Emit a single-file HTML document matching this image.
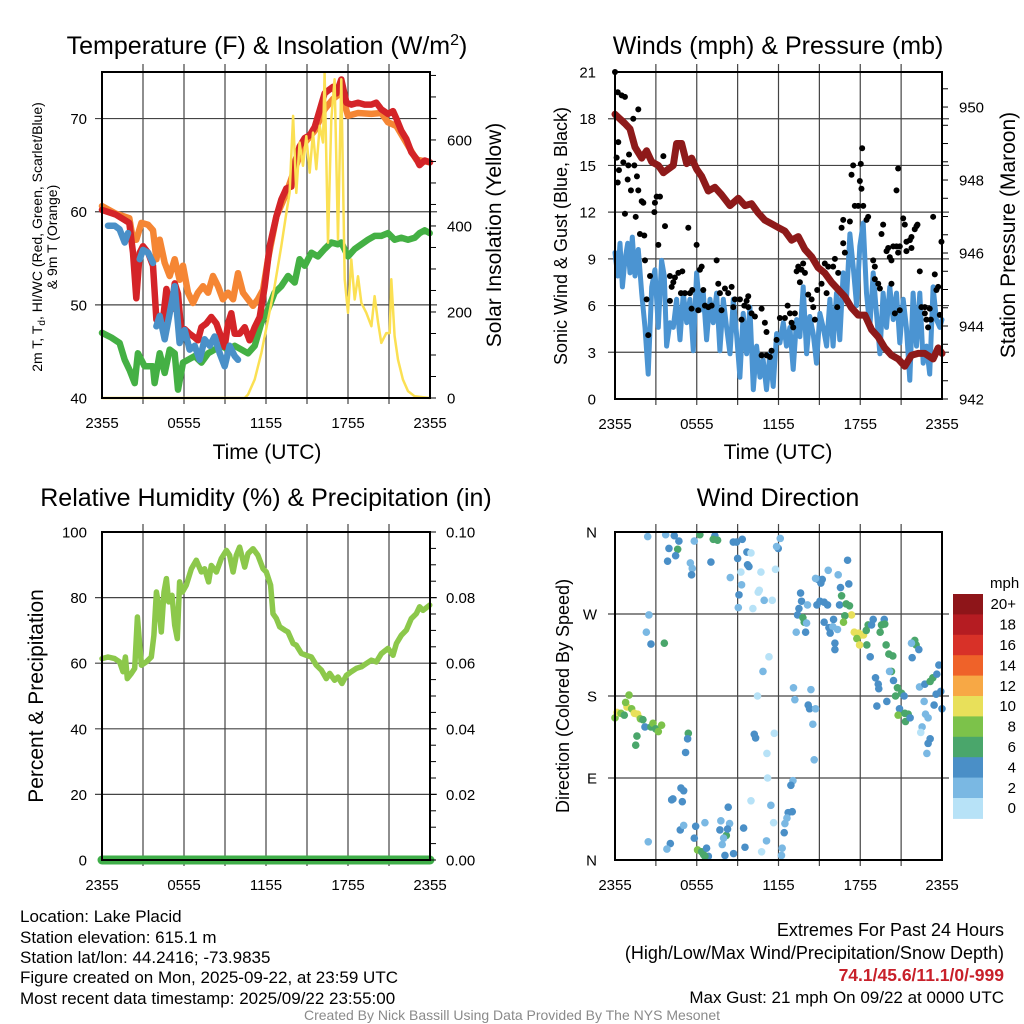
<!DOCTYPE html>
<html><head><meta charset="utf-8"><style>
html,body{margin:0;padding:0;background:#fff;}
svg{display:block;font-family:"Liberation Sans",sans-serif;}
</style></head><body>
<svg id="fig" width="1024" height="1024" viewBox="0 0 1024 1024" xmlns="http://www.w3.org/2000/svg">
<rect width="1024" height="1024" fill="#fff"/>
<g id="layer-grid"></g>
<g id="layer-data"></g>
<g id="layer-frame"></g>
<g font-size="25" text-anchor="middle" fill="#000">
<text x="267" y="54">Temperature (F) &amp; Insolation (W/m<tspan dy="-9" font-size="16">2</tspan><tspan dy="9">)</tspan></text>
<text x="778" y="54">Winds (mph) &amp; Pressure (mb)</text>
<text x="266" y="506">Relative Humidity (%) &amp; Precipitation (in)</text>
<text x="778" y="506">Wind Direction</text>
</g>
<g font-size="21" text-anchor="middle">
<text x="267" y="459">Time (UTC)</text>
<text x="778" y="459">Time (UTC)</text>
<text transform="translate(501,235) rotate(-90)">Solar Insolation (Yellow)</text>
<text transform="translate(1015,235) rotate(-90)">Station Pressure (Maroon)</text>
<text transform="translate(567,236) rotate(-90)" font-size="18">Sonic Wind &amp; Gust (Blue, Black)</text>
<text transform="translate(43,696) rotate(-90)" font-size="21">Percent &amp; Precipitation</text>
<text transform="translate(569,696) rotate(-90)" font-size="18">Direction (Colored By Speed)</text>
</g>
<g font-size="14" text-anchor="middle">
<text transform="translate(42,237) rotate(-90)">2m T, T<tspan font-size="10" dy="3">d</tspan><tspan dy="-3">, HI/WC (Red, Green, Scarlet/Blue)</tspan></text>
<text transform="translate(57,237) rotate(-90)">&amp; 9m T (Orange)</text>
</g>
<g font-size="17" fill="#000">
<text x="20" y="922">Location: Lake Placid</text>
<text x="20" y="943">Station elevation: 615.1 m</text>
<text x="20" y="963">Station lat/lon: 44.2416; -73.9835</text>
<text x="20" y="983">Figure created on Mon, 2025-09-22, at 23:59 UTC</text>
<text x="20" y="1004">Most recent data timestamp: 2025/09/22 23:55:00</text>
<g text-anchor="end">
<text x="1004" y="936" font-size="18">Extremes For Past 24 Hours</text>
<text x="1004" y="959" font-size="18">(High/Low/Max Wind/Precipitation/Snow Depth)</text>
<text x="1004" y="981" font-size="17.5" font-weight="bold" fill="#c8202a">74.1/45.6/11.1/0/-999</text>
<text x="1004" y="1003" font-size="17">Max Gust: 21 mph On 09/22 at 0000 UTC</text>
</g>
<text x="512" y="1020" font-size="14" fill="#8a8a8a" text-anchor="middle">Created By Nick Bassill Using Data Provided By The NYS Mesonet</text>
</g>
</svg>
<script>
// ---- Data ----
const xTickLabels = ["2355","0555","1155","1755","2355"];
const tempTicks = [40,50,60,70];
const insolTicks = [0,200,400,600];
const windTicks = [0,3,6,9,12,15,18,21];
const presTicks = [942,944,946,948,950];
const rhTicks = [0,20,40,60,80,100];
const precipTicks = ["0.00","0.02","0.04","0.06","0.08","0.10"];
const dirLabels = ["N","E","S","W","N"];
const speedBinLabels = ["0","2","4","6","8","10","12","14","16","18","20+"];
const speedBinColors = ["#b7e2f7","#7ab8e3","#4a8fc7","#4aa66b","#7cc24a","#e8e05a","#f7a845","#ef6229","#d83128","#b51c22","#8e1519"];

const tempTimes = [0,1,2,2.27,2.51,2.76,3.0,3.37,3.73,3.98,4.22,4.46,4.71,5.07,5.32,5.56,5.8,6.05,6.41,6.78,7.02,7.27,7.63,8.0,8.37,8.73,8.98,9.22,9.46,9.71,10.07,10.44,10.8,11.17,11.54,11.9,12.27,12.76,13.12,13.49,13.85,14.1,14.46,14.83,15.2,15.56,15.93,16.29,16.54,16.9,17.15,17.51,17.88,18.24,18.73,19.22,19.71,20.07,20.44,20.93,21.29,21.54,21.9,22.27,22.63,23.0,23.24,23.61,24];
const tempValues = [60.2,59.7,58.8,55.6,50.7,55.6,56.3,55.6,54.2,48.4,48.8,48.4,51.7,49.5,52.3,51.2,47.0,47.4,46.9,46.5,46.2,47.6,48.0,48.7,48.0,46.5,45.5,48.0,49.1,46.9,46.9,47.6,46.2,47.6,48.7,51.9,56.3,59.5,61.3,62.5,62.7,65.2,67.0,67.9,68.2,69.1,70.9,72.7,73.0,73.4,72.7,74.2,71.7,71.5,71.7,71.5,71.5,71.7,71.0,70.5,70.8,70.0,68.7,67.8,66.4,65.7,65.0,65.5,65.3];
const t9Times = [0,1,2,2.27,2.51,2.88,3.37,3.73,3.98,4.22,4.59,4.95,5.32,5.68,5.93,6.29,6.66,7.02,7.39,7.76,8.12,8.49,8.85,9.22,9.59,9.95,10.32,10.68,11.05,11.41,11.78,12.15,12.76,13.49,14.1,14.83,15.56,16.29,16.9,17.51,18.0,18.73,19.71,20.44,20.93,21.54,22.27,23.0,23.98];
const t9Values = [60.6,59.8,59.3,57,57,58.8,58.6,58,54.9,57.0,54.5,53.1,54.9,52.7,54.2,51.3,50.2,51.3,52.0,51.3,53.1,52.0,50.6,51.3,50.6,53.4,51.3,50.6,49.9,50.6,51.6,54.9,59.5,62.0,64.6,67.4,68.7,71,72.1,72.8,70.3,70.6,70.5,70.6,69.6,69.2,67.4,65.6,65.3];
const wcTimes = [0.44,0.93,1.29,1.66,1.9,2.3,2.76,3.0,3.37,3.73,3.85,3.98,4.22,4.59,4.95,5.32,5.68,6.05,6.41,6.78,7.15,7.51,7.88,8.24,8.61,8.98,9.34,9.71,9.95];
const wcValues = [58.5,58.5,58.1,56.7,57.7,null,54.9,55.9,55.6,54.5,null,47.7,48.8,46.3,49.1,52,45.9,47.3,45.2,45.6,44.1,46.3,45.6,46.6,44.8,43.4,45.6,44.5,44.1];
const dewTimes = [0,0.68,1.29,1.66,2.02,2.39,2.63,3.12,3.73,3.85,4.22,4.59,4.95,5.32,5.56,5.93,6.29,6.78,7.27,7.76,8.24,8.73,9.22,9.71,10.2,10.68,11.17,11.66,12.15,12.63,13.12,13.61,14.1,14.46,14.83,15.32,15.8,16.29,16.78,17.27,17.51,18.0,18.49,18.98,19.46,19.95,20.44,20.93,21.41,21.9,22.39,22.88,23.24,23.61,23.98];
const dewValues = [47,46.5,45.9,44.1,43,41.6,44.8,43.4,43.4,41.6,44.8,42.7,45.2,44.8,40.9,43.8,44.1,44.5,43.8,44.8,45.2,45.6,45.2,45.6,45.2,44.8,45.6,48.1,49.5,51.3,52,53.1,52.4,54.9,54.2,55.6,55.2,56,56.7,56.5,56.7,55.2,56,56.5,57,57.4,57.4,57.7,57,57.2,57,57.2,57.7,58,57.7];
const solarTimes = [0,10.44,10.68,11.17,11.66,12.15,12.63,13.12,13.49,13.73,13.98,14.22,14.46,14.71,14.95,15.2,15.44,15.68,15.93,16.17,16.29,16.54,16.78,17.02,17.27,17.51,17.76,18.0,18.24,18.49,18.73,18.98,19.34,19.71,19.95,20.2,20.44,20.8,21.05,21.17,21.41,21.66,22.02,22.39,22.88,23.98];
const solarValues = [0,0,8,43,105,182,260,353,431,477,656,477,594,540,609,524,617,532,633,594,757,361,648,741,369,741,276,198,322,229,283,221,198,167,237,175,128,151,151,276,144,89,43,16,4,0];

const windTimes = [0,0.2,0.37,0.54,0.73,0.93,1.1,1.27,1.47,1.71,1.96,2.2,2.44,2.69,2.93,3.18,3.42,3.62,3.79,4.03,4.28,4.52,4.77,5.01,5.26,5.5,5.75,5.99,6.23,6.48,6.72,6.97,7.21,7.46,7.7,7.95,8.19,8.44,8.68,8.92,9.17,9.41,9.66,9.9,10.15,10.39,10.64,10.88,11.12,11.37,11.61,11.86,12.1,12.35,12.59,12.84,13.08,13.33,13.57,13.81,14.06,14.3,14.55,14.79,15.04,15.28,15.53,15.77,16.01,16.26,16.5,16.75,16.99,17.24,17.48,17.73,17.97,18.22,18.46,18.7,18.95,19.19,19.44,19.68,19.93,20.17,20.42,20.66,20.9,21.15,21.39,21.64,21.88,22.13,22.37,22.62,22.86,23.1,23.35,23.59,23.84,24];
const windValues = [9.4,7.9,10.0,7.2,8.9,10.0,8.1,10.4,7.9,9.6,6.8,4.6,1.6,7.2,8.3,4.6,8.9,7.9,3.4,4.9,4.6,6.4,3.8,6.8,4.9,6.4,3.1,8.1,5.7,6.8,3.8,6.4,4.9,6.8,3.1,6.4,4.6,2.9,6.4,4.2,1.4,5.5,2.9,5.9,0.6,3.4,1.4,2.5,0.6,2.9,0.8,4.2,3.6,4.9,3.4,4.6,1.9,5.1,4.0,7.2,2.9,5.3,4.2,2.3,5.5,4.6,3.4,6.4,3.4,6.8,3.8,8.1,6.4,10.6,8.5,6.0,9.8,11.3,6.8,4.6,8.1,5.5,2.9,6.8,4.6,7.2,5.1,6.8,3.6,6.4,4.6,1.2,6.8,3.4,6.8,2.3,3.4,1.6,7.2,5.1,4.6,5.1];
const presTimes = [0,0.73,1.1,1.47,1.96,2.32,2.69,3.18,3.55,3.91,4.28,4.52,4.89,5.26,5.62,5.99,6.36,6.85,7.33,7.82,8.44,9.05,9.54,10.02,10.51,11.0,11.49,11.98,12.47,12.96,13.45,13.94,14.43,14.91,15.4,15.89,16.38,16.87,17.36,17.85,18.34,18.83,19.32,19.8,20.29,20.78,21.27,21.76,22.25,22.74,23.35,23.72,24];
const presValues = [949.8,949.55,949.4,948.9,948.6,948.8,948.5,948.4,948.2,948.3,948.4,949.0,949.0,948.45,948.6,948.3,948.1,947.7,947.8,947.6,947.3,947.5,947.3,947.35,947.1,946.9,946.8,946.7,946.6,946.35,946.45,946.1,945.9,945.6,945.45,945.2,945.0,944.8,944.5,944.3,944.3,943.9,943.7,943.4,943.2,943.1,942.9,943.2,943.25,943.25,943.1,943.4,943.25];
const gustTimes = [0,0.2,0.49,0.73,0.24,0.12,0.29,0.2,0.61,0.98,1.03,1.42,1.61,1.71,1.17,0.93,1.34,1.71,1.96,2.08,1.52,0.73,1.83,2.15,2.2,2.57,2.32,2.44,2.89,2.93,3.06,3.3,3.18,3.55,3.67,4.03,4.16,4.28,4.4,4.65,4.94,4.03,4.84,5.13,5.38,5.5,5.67,5.62,5.99,6.11,6.23,6.36,6.48,6.6,6.85,7.09,7.46,7.58,7.7,7.82,8.07,8.31,8.56,8.68,8.8,9.17,9.29,9.49,9.66,9.78,10.02,9.78,10.27,10.76,11.0,11.12,10.76,11.12,11.37,11.49,11.86,12.1,12.47,12.67,12.84,12.96,13.08,13.2,13.33,13.45,13.69,13.81,13.94,13.57,14.18,14.43,14.55,14.67,14.84,15.16,15.4,15.53,15.65,16.01,16.14,16.31,16.38,16.75,16.75,16.63,16.87,17.24,17.36,17.48,17.6,17.85,17.97,18.04,18.09,18.14,18.22,18.46,18.58,18.95,19.07,19.32,19.44,19.56,19.68,19.93,20.05,20.17,20.29,20.42,20.66,20.78,20.9,20.66,20.78,21.15,21.27,21.39,21.64,21.76,22.0,22.13,22.2,22.37,22.49,22.74,22.86,22.98,23.18,23.35,23.47,23.59,23.72,23.84,23.96,19.07,20.29,20.54,20.9,21.39,21.76,22.74,23.1];
const gustValues = [21.0,19.7,19.5,19.4,16.5,15.5,14.7,13.9,15.2,15.0,15.7,15.0,14.3,13.4,13.4,14.1,18.0,18.6,12.7,12.6,11.7,11.9,10.6,10.5,8.9,7.9,6.4,4.1,12.0,12.6,13.0,13.0,9.9,15.6,11.1,7.9,7.2,7.5,7.8,8.1,8.2,6.3,6.8,6.8,11.0,6.8,7.0,5.8,9.9,5.7,8.3,8.5,7.0,6.0,5.9,6.0,8.9,7.4,6.8,5.7,7.1,6.8,7.2,5.9,6.4,6.4,5.1,6.0,6.3,6.6,5.5,5.9,5.3,5.8,4.9,4.3,2.8,2.8,2.7,3.1,3.8,5.2,5.2,6.0,5.5,4.9,4.6,5.5,8.2,8.5,8.3,8.7,8.1,7.5,6.7,6.4,5.9,5.1,7.0,7.4,8.7,6.8,8.5,8.5,9.0,5.9,8.1,10.0,11.5,11.0,9.4,11.4,14.4,15.0,12.4,12.4,14.0,15.1,13.5,16.1,12.4,11.5,11.7,8.9,7.7,7.4,7.1,10.6,11.2,9.5,9.7,9.1,8.9,9.8,9.8,9.4,9.8,13.4,14.8,11.6,11.2,10.1,10.2,9.7,10.9,11.1,11.2,8.2,5.9,5.5,5.1,4.6,5.1,11.7,8.0,7.0,7.2,5.4,10.1,8.5,7.4,5.5,5.7,9.5,10.4,5.9,5.8];

const rhTimes = [0,0.44,0.93,1.29,1.54,1.71,1.85,2.15,2.39,2.59,2.88,3.24,3.61,3.8,3.98,4.15,4.34,4.54,4.71,4.88,5.12,5.32,5.51,5.68,5.88,6.17,6.54,6.9,7.27,7.51,7.8,8.0,8.37,8.73,9.1,9.34,9.59,9.83,10.07,10.44,10.68,11.05,11.41,11.78,12.02,12.34,12.51,12.76,13.0,13.37,13.61,13.98,14.22,14.59,14.95,15.32,15.68,16.05,16.41,16.66,17.02,17.27,17.56,17.88,18.24,18.61,18.98,19.34,19.71,20.07,20.44,20.93,21.29,21.54,21.9,22.27,22.63,23.0,23.24,23.49,23.98];
const rhValues = [61.4,61.9,61.4,60.4,57.4,61.9,55.3,56.9,58.4,74.1,59.4,60.4,61.9,68.5,81.7,77.7,69.5,81.7,85.8,78.7,80.7,71.6,67.5,84.8,81.7,83.8,88.8,91.4,87.8,88.8,84.8,89.8,87.8,91.9,94.4,92.9,87.8,92.9,95.4,89.3,93.4,94.9,92.9,88.8,87.8,83.8,75.1,73.6,71.1,70.1,69.5,66,65.5,63,62.4,61.9,59.4,57.9,55.3,56.9,54.8,55.8,53.8,56.3,57.4,58.4,58.9,59.9,60.9,60.4,62.9,64.5,62.4,66,68.5,70.1,73.6,75.1,77.2,76.1,77.7];
const precipTimes = [0,6,12,18,24];
const precipValues = [0,0,0,0,0];

const dirTimes = [2.4,3.72,4.35,4.69,3.96,4.6,4.45,3.86,5.53,5.67,5.62,5.82,6.23,7.33,7.53,7.21,7.04,8.68,8.92,9.34,9.68,9.98,9.0,9.73,9.83,9.24,10.71,11.78,8.46,9.29,10.59,10.51,10.95,11.54,9.1,9.05,10.12,11.98,11.86,12.13,
13.62,13.69,13.5,13.4,13.79,13.89,14.06,13.3,13.99,14.13,14.82,15.04,15.35,15.6,14.91,15.21,15.11,14.72,15.65,16.38,17.07,17.16,16.55,16.63,16.48,16.97,17.21,17.36,16.87,16.77,16.04,15.35,15.7,15.99,15.79,16.33,16.14,16.14,17.56,17.9,18.09,17.75,18.24,18.44,18.58,18.83,18.95,19.76,19.56,19.8,19.46,18.48,17.95,18.73,19.9,20.1,20.39,20.29,20.15,20.44,19.12,19.32,19.36,20.73,21.03,20.59,21.22,19.95,19.22,20.88,20.78,21.27,21.52,21.32,21.66,22.0,22.1,21.76,22.3,21.81,22.35,22.74,23.13,23.33,23.62,23.77,23.57,23.91,23.42,24.0,22.69,22.79,22.98,22.54,22.44,23.13,22.98,22.89,
2.49,2.3,2.64,3.62,11.3,10.86,13.1,13.2,14.38,14.18,14.28,14.72,14.52,14.62,10.46,10.22,10.32,11.69,11.15,11.2,13.06,
0,0.15,0.44,0.68,0.88,1.03,0.78,1.22,1.42,1.66,1.86,2.05,2.2,2.64,2.79,2.98,3.18,3.42,1.61,1.52,5.38,5.33,5.18,
4.84,5.04,4.16,4.25,4.94,8.31,9.98,11.44,12.91,12.71,13.01,12.62,11.64,12.47,12.42,12.27,12.22,11.12,10.76,9.54,8.7,8.07,8.41,7.77,8.17,7.97,7.87,7.7,8.26,9.44,6.6,5.92,5.82,4.79,5.04,4.06,3.81,2.44,6.06,6.36,6.5,6.72,6.85,6.6];
const dirDegrees = [355,357,356,350,342,341,334,328,326,320,313,350,357,356,351,352,327,349,349,352,338,337,331,324,322,316,316,319,310,302,296,294,285,285,291,277,276,342,344,353,
293,284,276,269,266,261,260,250,250,280,280,284,283,280,308,308,304,309,318,313,329,303,299,290,280,281,279,269,268,261,264,261,255,256,249,253,238,231,250,249,247,243,247,252,258,258,264,264,258,259,250,236,236,223,236,226,224,207,207,197,200,193,188,189,183,180,180,174,169,166,159,161,160,152,156,241,236,238,231,222,190,193,196,200,204,214,182,185,170,166,174,160,156,146,140,133,128,117,
269,250,237,238,223,207,189,176,187,170,166,166,149,110,180,138,134,139,117,90,87,
156,162,161,159,168,181,173,166,161,160,155,154,146,146,150,144,141,148,136,126,139,133,118,
79,76,66,67,64,58,65,60,82,52,53,46,41,40,30,13,5,21,9,14,7,5,40,43,27,24,17,33,34,35,41,37,24,33,38,18,12,20,11,9,6,13,4,4];
const dirSpeeds = [3,3,5,5,5,7,5,5,3,3,5,3,7,5,7,7,5,5,5,5,5,1,5,5,5,1,1,1,3,3,1,1,3,1,5,3,1,5,3,3,
5,5,5,5,7,7,3,3,5,3,5,5,5,5,5,5,5,3,3,3,5,5,5,7,5,7,7,11,7,9,5,5,5,3,5,3,5,5,11,11,11,9,11,7,7,5,5,5,7,7,7,7,11,5,7,7,7,7,3,5,5,5,5,7,7,7,5,5,5,5,9,7,7,7,5,7,7,3,5,5,3,5,7,7,5,5,5,5,5,5,3,3,3,3,1,5,5,3,
3,3,5,7,1,3,3,3,3,5,5,3,3,3,1,5,5,1,1,1,3,
9,11,9,7,11,9,9,9,11,11,9,7,5,7,9,7,9,9,7,7,7,5,5,
5,5,5,5,5,5,1,3,5,5,5,3,1,3,5,3,3,3,1,5,5,5,3,3,7,3,3,5,5,5,3,5,5,5,3,5,3,3,8,7,7,5,5,7];

// ---- Helpers ----
const NS = "http://www.w3.org/2000/svg";
const gGrid = document.getElementById('layer-grid');
const gData = document.getElementById('layer-data');
const gFrame = document.getElementById('layer-frame');
function mk(tag, attrs, parent) {
  const e = document.createElementNS(NS, tag);
  for (const k in attrs) e.setAttribute(k, attrs[k]);
  parent.appendChild(e);
  return e;
}
function scale(d0, d1, r0, r1) { return v => r0 + (v - d0) / (d1 - d0) * (r1 - r0); }

const panels = {
  temp: {x0:102, x1:430, y0:72, y1:398},
  wind: {x0:615, x1:942, y0:72, y1:399},
  rh:   {x0:102, x1:430, y0:532, y1:860},
  dir:  {x0:615, x1:942, y0:532, y1:860}
};

function drawFrame(p, name, yGridPix) {
  for (let i = 1; i < 8; i++) {
    const x = p.x0 + (p.x1 - p.x0) * i / 8;
    const l = mk('line', {x1:x, x2:x, y1:p.y0 - 8, y2:p.y1 + 6, stroke:'#444', 'stroke-width':1.2}, gGrid);
    
    
  }
  yGridPix.forEach(y => {
    const l = mk('line', {x1:p.x0 - 7, x2:p.x1 + 7, y1:y, y2:y, stroke:'#444', 'stroke-width':1.2}, gGrid);
    
    
  });
  const r = mk('rect', {x:p.x0, y:p.y0, width:p.x1 - p.x0, height:p.y1 - p.y0, fill:'none', stroke:'#000', 'stroke-width':2}, gFrame);
  
  
  xTickLabels.forEach((lab, i) => {
    const x = p.x0 + (p.x1 - p.x0) * i / 4;
    const t = mk('text', {x:x, y:p.y1 + 30, 'font-size':15, 'text-anchor':'middle'}, gFrame);
    t.textContent = lab;
    
    
  });
}

function leftLabel(x, y, txt, name) {
  const t = mk('text', {x:x, y:y + 5.5, 'font-size':15, 'text-anchor':'end'}, gFrame);
  t.textContent = txt;
  
  
}
function rightLabel(x, y, txt, name) {
  const t = mk('text', {x:x, y:y + 5.5, 'font-size':15, 'text-anchor':'start'}, gFrame);
  t.textContent = txt;
  
  
}
function rightTick(x, y, name) {
  const l = mk('line', {x1:x, x2:x + 6, y1:y, y2:y, stroke:'#000', 'stroke-width':1}, gFrame);
  
  
}

function polyline(times, vals, xs, ys, color, width, name) {
  let d = '', pen = false;
  for (let i = 0; i < Math.min(times.length, vals.length); i++) {
    if (vals[i] === null) { pen = false; continue; }
    d += (pen ? 'L' : 'M') + xs(times[i]).toFixed(1) + ',' + ys(vals[i]).toFixed(1);
    pen = true;
  }
  const path = mk('path', {d:d, fill:'none', stroke:color, 'stroke-width':width, 'stroke-linejoin':'round', 'stroke-linecap':'round'}, gData);
  
  
}

// ---- Panel 1: Temperature ----
(function() {
  const p = panels.temp;
  const xs = scale(0, 24, p.x0, p.x1);
  const ys = scale(40, 75, p.y1, p.y0);
  const ysR = scale(0, 758, p.y1, p.y0);
  drawFrame(p, 'temp', tempTicks.slice(1).map(ys));
  tempTicks.forEach(v => leftLabel(87, ys(v), String(v), 'temp-y-tick-label'));
  insolTicks.forEach(v => rightLabel(447, ysR(v), String(v), 'insolation-y-tick-label'));
  for (let v = 0; v <= 750; v += 50) rightTick(p.x1, ysR(v), 'insolation-minor-tick');
  polyline(dewTimes, dewValues, xs, ys, '#44b044', 6.5, 'dewpoint-line');
  polyline(t9Times, t9Values, xs, ys, '#f58634', 6.5, 'temp-9m-line');
  polyline(tempTimes, tempValues, xs, ys, '#d42428', 6.5, 'temp-2m-line');
  polyline(wcTimes, wcValues, xs, ys, '#4a90c8', 6.5, 'windchill-line');
  polyline(solarTimes, solarValues, xs, ysR, '#fbe053', 2.5, 'solar-insolation-line');
})();

// ---- Panel 2: Winds & Pressure ----
(function() {
  const p = panels.wind;
  const xs = scale(0, 24, p.x0, p.x1);
  const ys = scale(0, 21, p.y1, p.y0);
  const ysP = scale(942, 950.96, p.y1, p.y0);
  drawFrame(p, 'wind', windTicks.slice(1, -1).map(ys));
  windTicks.forEach(v => leftLabel(596, ys(v), String(v), 'wind-y-tick-label'));
  presTicks.forEach(v => rightLabel(959, ysP(v), String(v), 'pressure-y-tick-label'));
  for (let v = 942; v <= 950.9; v += 0.5) rightTick(p.x1, ysP(v), 'pressure-minor-tick');
  polyline(windTimes, windValues, xs, ys, '#4b94d2', 5, 'sonic-wind-line');
  for (let i = 0; i < gustTimes.length; i++) {
    const c = mk('circle', {cx:xs(gustTimes[i]), cy:ys(gustValues[i]), r:3, fill:'#000'}, gData);
    
    
  }
  polyline(presTimes, presValues, xs, ysP, '#8e1a1a', 7, 'pressure-line');
})();

// ---- Panel 3: RH & Precip ----
(function() {
  const p = panels.rh;
  const xs = scale(0, 24, p.x0, p.x1);
  const ys = scale(0, 100, p.y1, p.y0);
  const ysR = scale(0, 0.10, p.y1, p.y0);
  drawFrame(p, 'rh', rhTicks.slice(1, -1).map(ys));
  rhTicks.forEach(v => leftLabel(87, ys(v), String(v), 'rh-y-tick-label'));
  precipTicks.forEach(v => rightLabel(446, ysR(parseFloat(v)), v, 'precip-y-tick-label'));
  for (let v = 0; v <= 0.1001; v += 0.005) rightTick(p.x1, ysR(v), 'precip-minor-tick');
  polyline(rhTimes, rhValues, xs, ys, '#8cc84b', 5.5, 'relative-humidity-line');
  polyline(precipTimes, precipValues, xs, ysR, '#3fae49', 9, 'precipitation-line');
})();

// ---- Panel 4: Wind Direction ----
(function() {
  const p = panels.dir;
  const xs = scale(0, 24, p.x0, p.x1);
  const ys = scale(0, 360, p.y1, p.y0);
  drawFrame(p, 'dir', [90, 180, 270].map(ys));
  dirLabels.forEach((lab, i) => leftLabel(597, ys(i * 90), lab, 'direction-y-tick-label'));
  for (let i = 0; i < dirTimes.length; i++) {
    const bin = Math.min(10, Math.floor(dirSpeeds[i] / 2));
    const c = mk('circle', {cx:xs(dirTimes[i]), cy:ys(dirDegrees[i]), r:3.8, fill:speedBinColors[bin]}, gData);
    
    
  }
  const cbTop = 594, cbH = 20.4;
  const ttl = mk('text', {x:990, y:588, 'font-size':15}, gFrame);
  ttl.textContent = 'mph';
  
  
  for (let i = 0; i < speedBinLabels.length; i++) {
    const k = speedBinLabels.length - 1 - i;
    const r = mk('rect', {x:953, y:cbTop + i * cbH, width:30, height:cbH + 0.5, fill:speedBinColors[k]}, gFrame);
    
    
    const t = mk('text', {x:1016, y:cbTop + i * cbH + cbH / 2 + 5, 'font-size':15, 'text-anchor':'end'}, gFrame);
    t.textContent = speedBinLabels[k];
    
    
  }
})();
</script>
</body></html>
